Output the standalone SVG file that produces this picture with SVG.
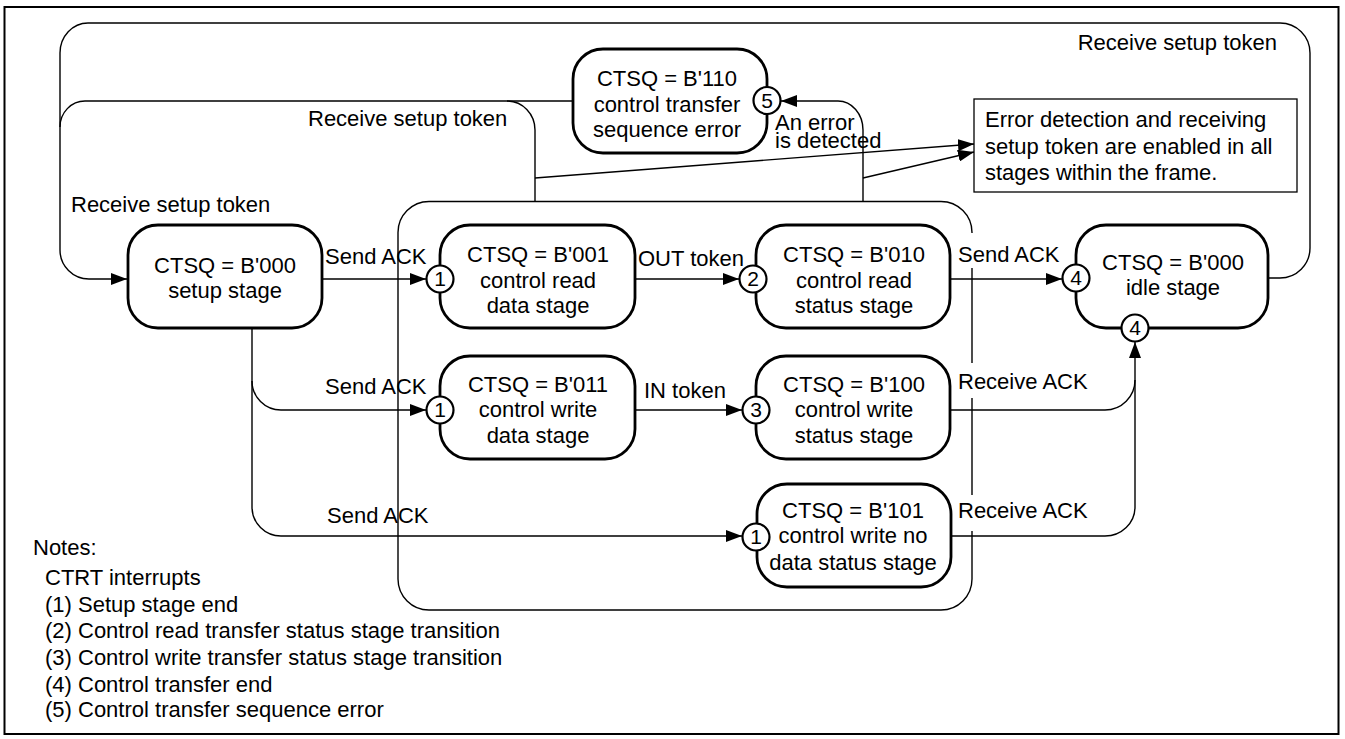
<svg xmlns="http://www.w3.org/2000/svg" width="1345" height="739" viewBox="0 0 1345 739">
<style>
text{font-family:"Liberation Sans",Arial,sans-serif;font-size:22px;fill:#000}
.c{text-anchor:middle}
.e{text-anchor:end}
.box{fill:#fff;stroke:#000;stroke-width:2.8}
.circ{fill:#fff;stroke:#000;stroke-width:2.2}
.num{font-size:21px;text-anchor:middle}
.ln{fill:none;stroke:#000;stroke-width:1.4}
.arr{marker-end:url(#ah)}
</style>
<defs>
<marker id="ah" markerUnits="userSpaceOnUse" markerWidth="17" markerHeight="12" refX="16" refY="6" orient="auto">
<path d="M0,0 L16,6 L0,12 z" fill="#000"/>
</marker>
</defs>
<rect x="0" y="0" width="1345" height="739" fill="#fff"/>
<rect id="border" x="4.5" y="7" width="1334" height="727" fill="none" stroke="#000" stroke-width="2"/>

<g id="frame">
<rect x="398" y="201.5" width="574" height="408.5" rx="31" ry="31" fill="none" stroke="#000" stroke-width="1.4"/>
<rect x="968" y="233" width="8" height="35" fill="#fff"/>
<rect x="968" y="363" width="8" height="35" fill="#fff"/>
<rect x="968" y="495" width="8" height="36" fill="#fff"/>
</g>

<g id="connectors">
<path class="ln arr" d="M1268,278 H1280 A30,30 0 0 0 1310,248 V53 A30,30 0 0 0 1280,23 H88 A28,30 0 0 0 60,53 V250 A29,29 0 0 0 89,279 H127"/>
<path class="ln" d="M572,101 H85 A25,26 0 0 0 60,127"/>
<path class="ln" d="M535,201.5 V130 A28,29 0 0 0 507,101"/>
<path class="ln arr" d="M322,279 H426"/>
<path class="ln arr" d="M252,328 V381 A29,29 0 0 0 281,410 H426"/>
<path class="ln arr" d="M252,381 V507 A29,29 0 0 0 281,536 H742"/>
<path class="ln arr" d="M635,279 H739"/>
<path class="ln arr" d="M635,410 H742"/>
<path class="ln arr" d="M950,279 H1062"/>
<path class="ln arr" d="M950,410 H1105 A30,30 0 0 0 1135,380 V342"/>
<path class="ln" d="M951,536 H1105 A30,29 0 0 0 1135,507 V380"/>
<path class="ln arr" d="M863,201.5 V130 A25,29 0 0 0 838,101 H781"/>
<path class="ln arr" d="M535,178 L974,144"/>
<path class="ln arr" d="M863,178 L974,152"/>
</g>

<g id="labels">
<text class="e" x="1277" y="50">Receive setup token</text>
<text x="308" y="126">Receive setup token</text>
<text x="71" y="212">Receive setup token</text>
<text x="325" y="264">Send ACK</text>
<text x="325" y="394">Send ACK</text>
<text x="327" y="523">Send ACK</text>
<text x="638" y="266">OUT token</text>
<text x="644" y="398">IN token</text>
<text x="958" y="262">Send ACK</text>
<text x="958" y="389">Receive ACK</text>
<text x="958" y="518">Receive ACK</text>
<text x="775" y="130">An error</text>
<text x="775" y="148">is detected</text>
</g>

<g id="note">
<rect x="974" y="99" width="323" height="93" fill="#fff" stroke="#000" stroke-width="1.3"/>
<text x="985" y="127">Error detection and receiving</text>
<text x="985" y="154">setup token are enabled in all</text>
<text x="985" y="180">stages within the frame.</text>
</g>

<g id="setup">
<rect class="box" x="128" y="225" width="194" height="103" rx="30"/>
<text class="c" x="225" y="273">CTSQ = B'000</text>
<text class="c" x="225" y="298">setup stage</text>
</g>
<g id="b001">
<rect class="box" x="440" y="225" width="195" height="103" rx="30"/>
<text class="c" x="538" y="262">CTSQ = B'001</text>
<text class="c" x="538" y="288">control read</text>
<text class="c" x="538" y="313">data stage</text>
<circle class="circ" cx="440" cy="279" r="13.5"/>
<text class="num" x="440" y="286">1</text>
</g>
<g id="b010">
<rect class="box" x="756" y="225" width="194" height="103" rx="30"/>
<text class="c" x="854" y="262">CTSQ = B'010</text>
<text class="c" x="854" y="288">control read</text>
<text class="c" x="854" y="313">status stage</text>
<circle class="circ" cx="753" cy="279" r="13.5"/>
<text class="num" x="753" y="286">2</text>
</g>
<g id="idle">
<rect class="box" x="1076" y="225" width="192" height="103" rx="30"/>
<text class="c" x="1173" y="270">CTSQ = B'000</text>
<text class="c" x="1173" y="295">idle stage</text>
<circle class="circ" cx="1076" cy="278" r="13.5"/>
<text class="num" x="1076" y="285">4</text>
<circle class="circ" cx="1135" cy="328" r="13.5"/>
<text class="num" x="1135" y="335">4</text>
</g>
<g id="b011">
<rect class="box" x="440" y="356" width="195" height="103" rx="30"/>
<text class="c" x="538" y="392">CTSQ = B'011</text>
<text class="c" x="538" y="417">control write</text>
<text class="c" x="538" y="443">data stage</text>
<circle class="circ" cx="440" cy="410" r="13.5"/>
<text class="num" x="440" y="417">1</text>
</g>
<g id="b100">
<rect class="box" x="756" y="356" width="194" height="103" rx="30"/>
<text class="c" x="854" y="392">CTSQ = B'100</text>
<text class="c" x="854" y="417">control write</text>
<text class="c" x="854" y="443">status stage</text>
<circle class="circ" cx="756" cy="410" r="13.5"/>
<text class="num" x="756" y="417">3</text>
</g>
<g id="b101">
<rect class="box" x="757" y="484" width="194" height="103" rx="30"/>
<text class="c" x="853" y="518">CTSQ = B'101</text>
<text class="c" x="853" y="543">control write no</text>
<text class="c" x="853" y="570">data status stage</text>
<circle class="circ" cx="756" cy="537" r="13.5"/>
<text class="num" x="756" y="544">1</text>
</g>
<g id="b110">
<rect class="box" x="573" y="49" width="194" height="104" rx="30"/>
<text class="c" x="667" y="86">CTSQ = B'110</text>
<text class="c" x="667" y="112">control transfer</text>
<text class="c" x="667" y="137">sequence error</text>
<circle class="circ" cx="767" cy="100.5" r="13.5"/>
<text class="num" x="767" y="108">5</text>
</g>

<g id="notes">
<text x="33" y="555">Notes:</text>
<text x="45" y="585">CTRT interrupts</text>
<text x="45" y="612">(1) Setup stage end</text>
<text x="45" y="638">(2) Control read transfer status stage transition</text>
<text x="45" y="665">(3) Control write transfer status stage transition</text>
<text x="45" y="692">(4) Control transfer end</text>
<text x="45" y="717">(5) Control transfer sequence error</text>
</g>
</svg>
